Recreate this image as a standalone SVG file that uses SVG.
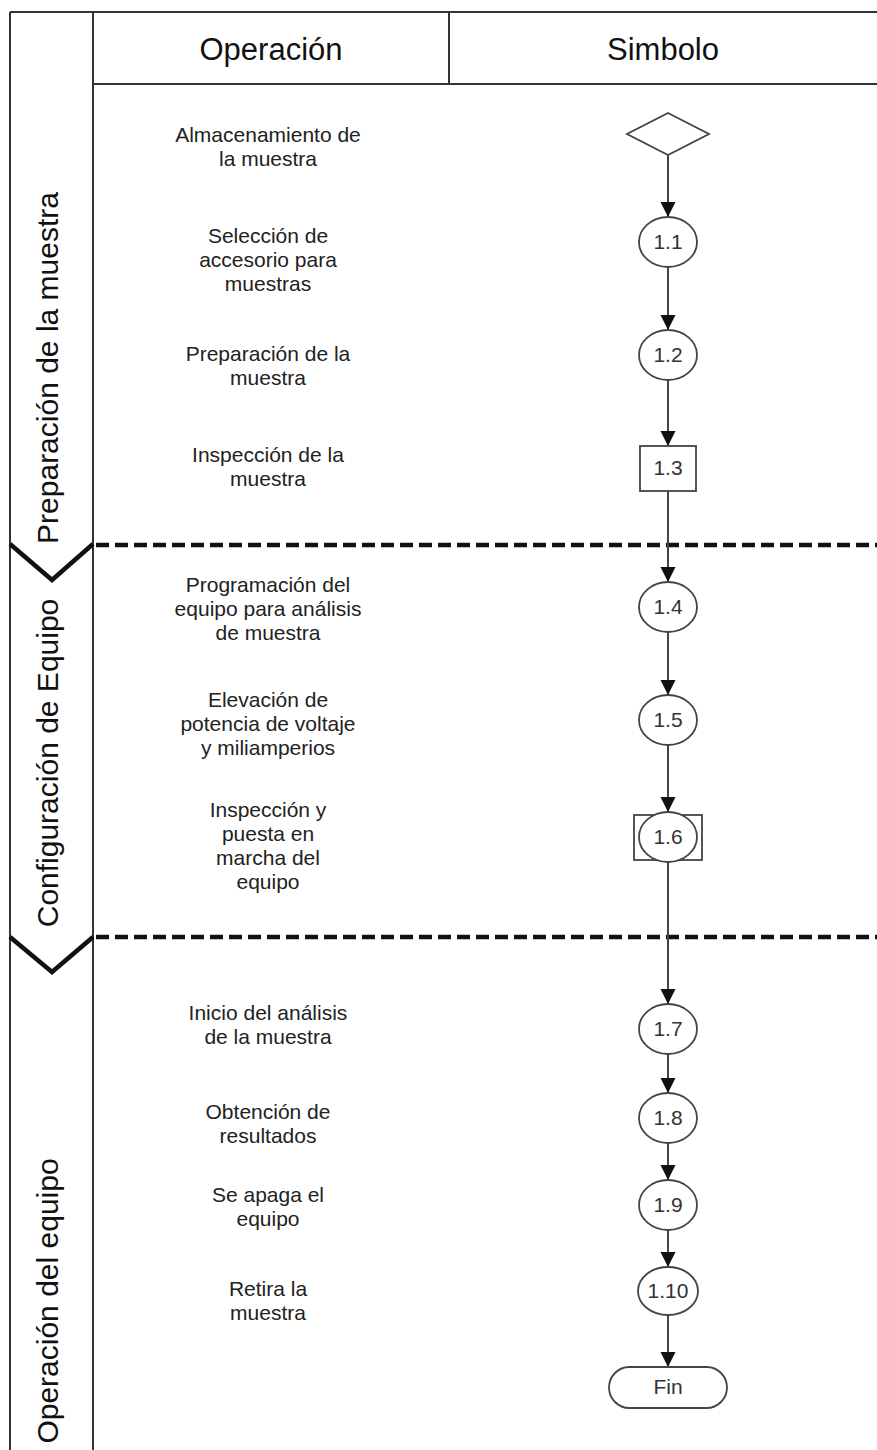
<svg xmlns="http://www.w3.org/2000/svg" width="877" height="1450" viewBox="0 0 877 1450">
<style>
.frame{stroke:#333;stroke-width:2;fill:none}
.sep{stroke:#111;stroke-width:4.5;stroke-dasharray:13 6;fill:none}
.chev{stroke:#111;stroke-width:4.5;fill:none;stroke-linejoin:miter}
.hdr{font-family:"Liberation Sans",Arial,sans-serif;font-size:31px;fill:#111;text-anchor:middle}
.lane{font-family:"Liberation Sans",Arial,sans-serif;font-size:30px;fill:#111;text-anchor:middle}
.op{font-family:"Liberation Sans",Arial,sans-serif;font-size:21px;fill:#222;text-anchor:middle}
.shape{fill:#fff;stroke:#444;stroke-width:1.8}
.lbl{font-family:"Liberation Sans",Arial,sans-serif;font-size:21px;fill:#333;text-anchor:middle}
.conn{stroke:#444;stroke-width:2;fill:none}
</style>
<defs>
<marker id="arr" markerUnits="userSpaceOnUse" markerWidth="16" markerHeight="16" refX="15" refY="7.5" orient="auto">
<path d="M0,0 L15,7.5 L0,15 Z" fill="#111"/>
</marker>
</defs>
<rect width="877" height="1450" fill="#fff"/>
<g id="frame">
<line class="frame" x1="10" y1="12" x2="877" y2="12" stroke-width="2.5"/>
<line class="frame" x1="10" y1="12" x2="10" y2="1450"/>
<line class="frame" x1="93" y1="12" x2="93" y2="1450"/>
<line class="frame" x1="93" y1="84" x2="877" y2="84"/>
<line class="frame" x1="449" y1="12" x2="449" y2="84"/>
<text class="hdr" x="271" y="60">Operación</text>
<text class="hdr" x="663" y="60">Simbolo</text>
</g>
<g id="separators">
<line class="sep" x1="96" y1="545" x2="877" y2="545"/>
<line class="sep" x1="96" y1="937" x2="877" y2="937"/>
<polyline class="chev" points="10,544 52,580 93,544"/>
<polyline class="chev" points="10,937 52,972 93,937"/>
</g>
<g id="lane-labels">
<text class="lane" transform="translate(58,368) rotate(-90)">Preparación de la muestra</text>
<text class="lane" transform="translate(58,763) rotate(-90)">Configuración de Equipo</text>
<text class="lane" transform="translate(58,1301) rotate(-90)">Operación del equipo</text>
</g>
<g id="operations">
<text class="op" x="268" y="142">Almacenamiento de</text>
<text class="op" x="268" y="166">la muestra</text>
<text class="op" x="268" y="243">Selección de</text>
<text class="op" x="268" y="267">accesorio para</text>
<text class="op" x="268" y="291">muestras</text>
<text class="op" x="268" y="361">Preparación de la</text>
<text class="op" x="268" y="385">muestra</text>
<text class="op" x="268" y="462">Inspección de la</text>
<text class="op" x="268" y="486">muestra</text>
<text class="op" x="268" y="592">Programación del</text>
<text class="op" x="268" y="616">equipo para análisis</text>
<text class="op" x="268" y="640">de muestra</text>
<text class="op" x="268" y="707">Elevación de</text>
<text class="op" x="268" y="731">potencia de voltaje</text>
<text class="op" x="268" y="755">y miliamperios</text>
<text class="op" x="268" y="817">Inspección y</text>
<text class="op" x="268" y="841">puesta en</text>
<text class="op" x="268" y="865">marcha del</text>
<text class="op" x="268" y="889">equipo</text>
<text class="op" x="268" y="1020">Inicio del análisis</text>
<text class="op" x="268" y="1044">de la muestra</text>
<text class="op" x="268" y="1119">Obtención de</text>
<text class="op" x="268" y="1143">resultados</text>
<text class="op" x="268" y="1202">Se apaga el</text>
<text class="op" x="268" y="1226">equipo</text>
<text class="op" x="268" y="1296">Retira la</text>
<text class="op" x="268" y="1320">muestra</text>
</g>
<g id="connectors">
<line class="conn" x1="668" y1="155" x2="668" y2="217" marker-end="url(#arr)"/>
<line class="conn" x1="668" y1="267" x2="668" y2="330" marker-end="url(#arr)"/>
<line class="conn" x1="668" y1="380" x2="668" y2="446" marker-end="url(#arr)"/>
<line class="conn" x1="668" y1="491" x2="668" y2="582" marker-end="url(#arr)"/>
<line class="conn" x1="668" y1="630" x2="668" y2="695" marker-end="url(#arr)"/>
<line class="conn" x1="668" y1="745" x2="668" y2="812" marker-end="url(#arr)"/>
<line class="conn" x1="668" y1="862" x2="668" y2="1004" marker-end="url(#arr)"/>
<line class="conn" x1="668" y1="1054" x2="668" y2="1093" marker-end="url(#arr)"/>
<line class="conn" x1="668" y1="1143" x2="668" y2="1180" marker-end="url(#arr)"/>
<line class="conn" x1="668" y1="1230" x2="668" y2="1267" marker-end="url(#arr)"/>
<line class="conn" x1="668" y1="1315" x2="668" y2="1367" marker-end="url(#arr)"/>
</g>
<g id="n-start"><polygon class="shape" points="668,113 709,134 668,155 627,134"/></g>
<g id="n-1-1"><ellipse class="shape" cx="668" cy="242" rx="29" ry="25"/><text class="lbl" x="668" y="249">1.1</text></g>
<g id="n-1-2"><ellipse class="shape" cx="668" cy="355" rx="29" ry="25"/><text class="lbl" x="668" y="362">1.2</text></g>
<g id="n-1-3"><rect class="shape" x="640" y="446" width="56" height="45"/><text class="lbl" x="668" y="475">1.3</text></g>
<g id="n-1-4"><ellipse class="shape" cx="668" cy="607" rx="29" ry="25"/><text class="lbl" x="668" y="614">1.4</text></g>
<g id="n-1-5"><ellipse class="shape" cx="668" cy="720" rx="29" ry="25"/><text class="lbl" x="668" y="727">1.5</text></g>
<g id="n-1-6"><rect class="shape" x="634" y="815" width="68" height="45"/><ellipse class="shape" cx="668" cy="837" rx="29" ry="25"/><text class="lbl" x="668" y="844">1.6</text></g>
<g id="n-1-7"><ellipse class="shape" cx="668" cy="1029" rx="29" ry="25"/><text class="lbl" x="668" y="1036">1.7</text></g>
<g id="n-1-8"><ellipse class="shape" cx="668" cy="1118" rx="29" ry="25"/><text class="lbl" x="668" y="1125">1.8</text></g>
<g id="n-1-9"><ellipse class="shape" cx="668" cy="1205" rx="29" ry="25"/><text class="lbl" x="668" y="1212">1.9</text></g>
<g id="n-1-10"><ellipse class="shape" cx="668" cy="1291" rx="30" ry="24"/><text class="lbl" x="668" y="1298">1.10</text></g>
<g id="n-fin"><rect class="shape" x="609" y="1367" width="118" height="41" rx="20.5" ry="20.5"/><text class="lbl" x="668" y="1394">Fin</text></g>
</svg>
